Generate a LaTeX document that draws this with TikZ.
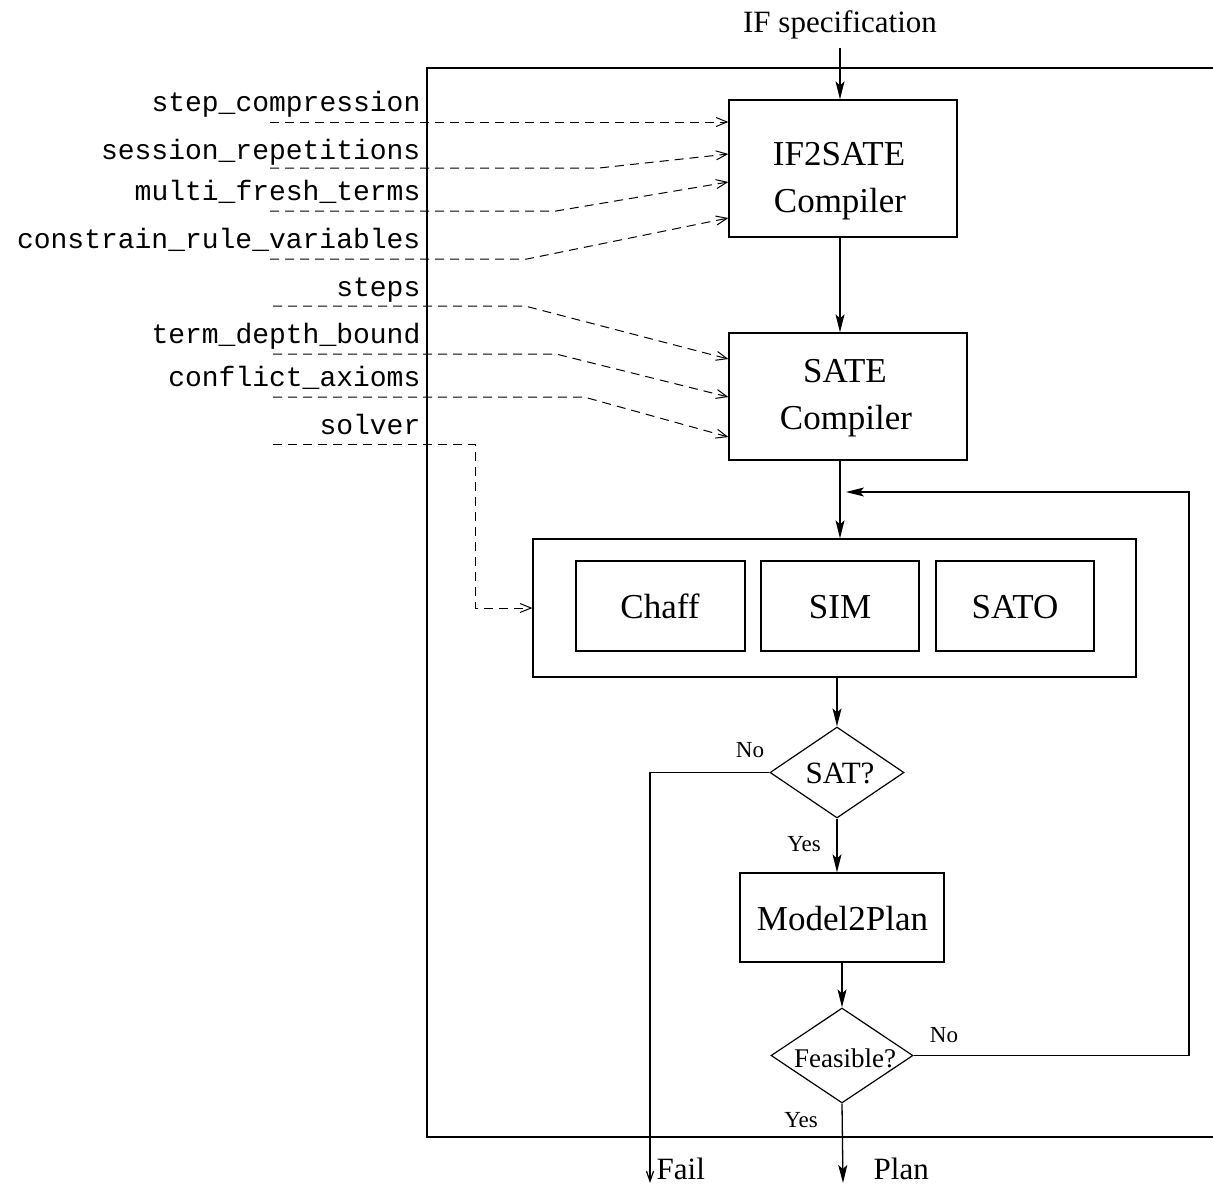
\documentclass[tikz,border=0pt]{standalone}
\usepackage{fontspec}
\setmainfont{Liberation Serif}
\setmonofont{Liberation Mono}
\usetikzlibrary{arrows.meta,shapes.geometric}
\begin{document}
\begin{tikzpicture}[x=1pt,y=-1pt,
  line width=1.3pt,
  box/.style={draw, inner sep=0pt, line width=1.3pt},
  dia/.style={draw, diamond, inner sep=0pt, line width=1.2pt},
  bigtxt/.style={font=\fontsize{35}{40}\selectfont, anchor=base, inner sep=0pt},
  midtxt/.style={font=\fontsize{31}{36}\selectfont, anchor=base, inner sep=0pt},
  smalltxt/.style={font=\fontsize{23}{27}\selectfont, anchor=base, inner sep=0pt},
  opttxt/.style={font=\ttfamily\fontsize{28}{32}\selectfont, anchor=base east, inner sep=0pt},
  flow/.style={-{Stealth[length=18pt,width=9pt,inset=4pt]}},
  param/.style={dash pattern=on 9pt off 6pt, line width=1pt, -{Straight Barb[length=11pt,width=9pt]}},
]
\useasboundingbox (0,0) rectangle (1213,1187);

% outer frame (its right side lies beyond the picture edge)
\node[box, minimum width=791pt, minimum height=1069pt] (frame) at (822.5,602.5) {};

% boxes
\node[box, minimum width=228pt, minimum height=137pt] (if2) at (843,168.5) {};
\node[bigtxt] (if2a) at (839,165) {IF2SATE};
\node[bigtxt] (if2b) at (840,212) {Compiler};

\node[box, minimum width=238pt, minimum height=127pt] (sate) at (848,396.5) {};
\node[bigtxt] (satea) at (845,382) {SATE};
\node[bigtxt] (sateb) at (846,429) {Compiler};

\node[box, minimum width=603pt, minimum height=138pt] (solvers) at (834.5,608) {};
\node[box, minimum width=169pt, minimum height=90pt] (chaff) at (660.5,606) {};
\node[box, minimum width=158pt, minimum height=90pt] (sim) at (840,606) {};
\node[box, minimum width=158pt, minimum height=90pt] (sato) at (1015,606) {};
\node[bigtxt] (chafft) at (660,618) {Chaff};
\node[bigtxt] (simt) at (840,618) {SIM};
\node[bigtxt] (satot) at (1015,618) {SATO};

\node[dia, minimum width=134pt, minimum height=91pt] (sat) at (837,772.5) {};
\node[midtxt] (satt) at (840,783) {SAT?};

\node[box, minimum width=204pt, minimum height=89pt] (m2p) at (842,917.5) {};
\node[bigtxt] (m2pt) at (842.5,930) {Model2Plan};

\node[dia, minimum width=142pt, minimum height=95pt] (feas) at (842,1055.5) {};
\node[font=\fontsize{27}{30}\selectfont, anchor=base, inner sep=0pt] (feast) at (845,1067) {Feasible?};

% texts
\node[midtxt] (spec) at (840,32) {IF specification};
\node[smalltxt] (satno) at (750,757) {No};
\node[smalltxt] (satyes) at (804,851) {Yes};
\node[smalltxt] (feasno) at (944,1042) {No};
\node[smalltxt] (feasyes) at (801,1127) {Yes};
\node[midtxt, anchor=base west] (fail) at (656,1179) {Fail};
\node[midtxt, anchor=base west] (plan) at (873,1179) {Plan};

% option labels
\node[opttxt] (o1) at (421,111) {step\_compression};
\node[opttxt] (o2) at (421,159) {session\_repetitions};
\node[opttxt] (o3) at (421,200) {multi\_fresh\_terms};
\node[opttxt] (o4) at (421,248) {constrain\_rule\_variables};
\node[opttxt] (o5) at (421,296) {steps};
\node[opttxt] (o6) at (421,343) {term\_depth\_bound};
\node[opttxt] (o7) at (421,386) {conflict\_axioms};
\node[opttxt] (o8) at (421,434) {solver};

% coordinates
\coordinate (spine) at (840,0);
\coordinate (s1) at (270,122);
\coordinate (s2) at (270,168);
\coordinate (s3) at (270,211);
\coordinate (s4) at (270,259);
\coordinate (s5) at (273,306);
\coordinate (s6) at (273,354);
\coordinate (s7) at (273,397);
\coordinate (s8) at (273,444);
\coordinate (k2) at (599,168);
\coordinate (k3) at (556,211);
\coordinate (k4) at (527,259);
\coordinate (k5) at (525,306);
\coordinate (k6) at (556,354);
\coordinate (k7) at (584,397);
\coordinate (k8) at (475,444);
\coordinate (loopc) at (1189,492);
\coordinate (loopend) at (846,492);
\coordinate (failend) at (650,1183);
\coordinate (planend) at (843,1183);

% main flow
\draw[flow] (spec.south |- 0,48) -- (spec.south |- if2.north);
\draw[flow] (if2.south -| spine) -- (sate.north -| spine);
\draw[flow] (sate.south -| spine) -- (solvers.north -| spine);
\draw[flow] (solvers.south -| sat.north) -- (sat.north);
\draw[flow] (sat.south) -- (m2p.north -| sat.south);
\draw[flow] (m2p.south -| feas.north) -- (feas.north);
\draw[flow] (feas.south) -- (planend);
\draw[flow] (feas.east) -| (loopc) -- (loopend);
\draw[line width=1.2pt, -{Straight Barb[length=10pt,width=7pt]}] (sat.west) -| (failend);

% parameter arrows
\draw[param] (s1) -- (if2.west |- s1);
\draw[param] (s2) -- (k2) -- (if2.west |- 0,154);
\draw[param] (s3) -- (k3) -- (if2.west |- 0,182);
\draw[param] (s4) -- (k4) -- (if2.west |- 0,218);
\draw[param] (s5) -- (k5) -- (sate.west |- 0,359);
\draw[param] (s6) -- (k6) -- (sate.west |- 0,397);
\draw[param] (s7) -- (k7) -- (sate.west |- 0,437);
\draw[param] (s8) -- (k8) |- (solvers.west);
\end{tikzpicture}
\end{document}
